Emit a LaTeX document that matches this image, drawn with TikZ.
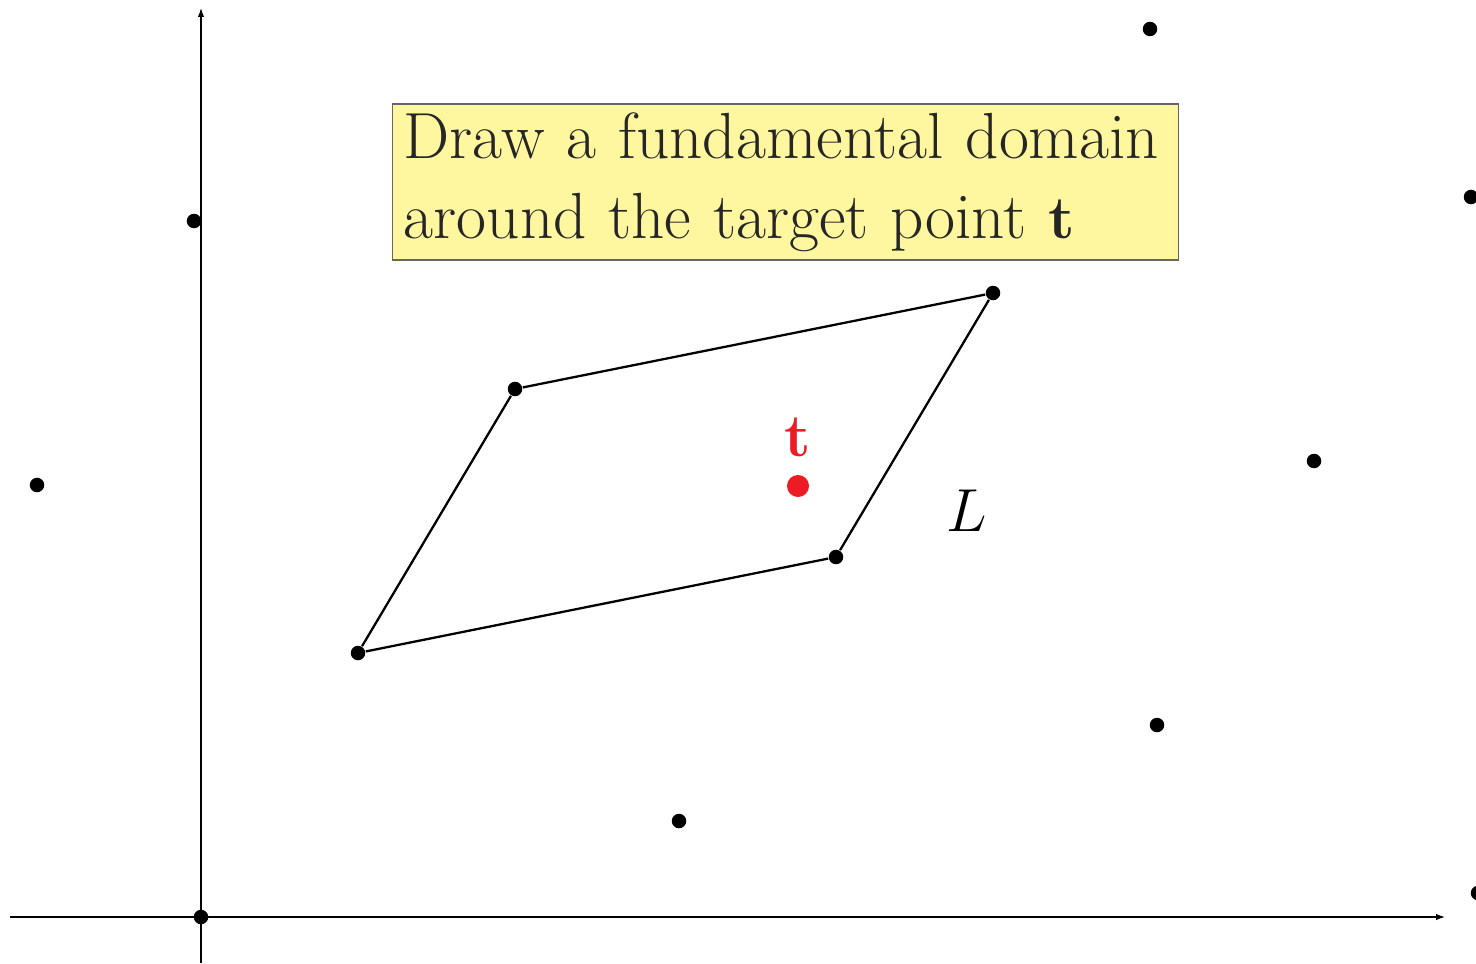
\documentclass[tikz,border=0pt]{standalone}
\usepackage{amsmath,amssymb}
\usepackage{tikz}
\usetikzlibrary{positioning}
\usetikzlibrary{arrows.meta}
\definecolor{boxyellow}{RGB}{255,246,160}
\definecolor{tred}{RGB}{237,28,36}

\begin{document}
\begin{tikzpicture}[
  x=0.01cm, y=0.01cm,
  axis/.style={
      line width=0.35pt,
      -{Latex[length=0.9mm,width=0.65mm]}
  },
  dot/.style={
      circle,
      fill=black,
      inner sep=0pt,
      minimum size=0.145cm
  },
  tdot/.style={
      circle,
      fill=tred,
      inner sep=0pt,
      minimum size=0.22cm
  },
  edge/.style={
      line width=0.65pt,
      line join=round
  },
  task/.style={
      draw=black!60,
      line width=0.35pt,
      fill=boxyellow,
      text=black!85,
      text width=7.63cm,
      inner xsep=0.1cm,
      inner ysep=0.02cm,
      align=left,
      minimum width=7.85cm,
      minimum height=1.56cm,
      font=\fontsize{18.55}{22.8}\selectfont
  }
]
\useasboundingbox (0,0) rectangle (1476,963);

% axes
\coordinate (xs) at (10,46);
\coordinate (xe) at (1445,46);
\coordinate (ys) at (201,0);
\coordinate (ye) at (201,955);
\draw[axis] (xs) -- (xe);
\draw[axis] (ys) -- (ye);

% lattice points, b1=(157,264), b2=(478,96)
\foreach \a/\b in {0/0,1/0,2/0,3/0,0/1,1/1,2/1,3/1,0/2,1/2,2/2,-1/3,2/-1,3/-1}
{
  \node[dot] (p\a\b) at ({201+157*\a+478*\b},{46+264*\a+96*\b}) {};
}

% fundamental domain
\draw[edge] (p10) -- (p11) -- (p21) -- (p20) -- (p10);

% target point
\node[tdot] (t) at (798,477) {};
\node[text=tred, inner sep=0pt, above=5pt of t,
      font=\fontsize{18}{22}\selectfont] (tlab) {$\mathbf{t}$};

\node[font=\fontsize{18.5}{22}\selectfont] (L) at (967,452) {$L$};

\node[task] (msg) at (785.5,781)
{
Draw a fundamental domain\\
around the target point $\mathbf{t}$
};

\end{tikzpicture}
\end{document}
